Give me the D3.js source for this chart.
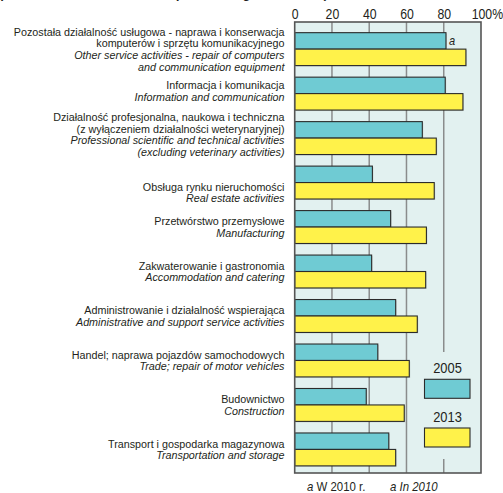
<!DOCTYPE html>
<html>
<head>
<meta charset="utf-8">
<script src="https://cdn.jsdelivr.net/npm/d3@7"></script>
<style>
  body { margin: 0; background: #fff; }
  svg { display: block; }
  text { font-family: "Liberation Sans", Arial, sans-serif; fill: #231f20; }
</style>
</head>
<body>
<svg id="chart" width="503" height="493"></svg>
<script>
// nazwy sekcji (PL / EN)
const labelsPL = [
  ["Pozostała działalność usługowa - naprawa i konserwacja", "komputerów i sprzętu komunikacyjnego"],
  ["Informacja i komunikacja"],
  ["Działalność profesjonalna, naukowa i techniczna", "(z wyłączeniem działalności weterynaryjnej)"],
  ["Obsługa rynku nieruchomości"],
  ["Przetwórstwo przemysłowe"],
  ["Zakwaterowanie i gastronomia"],
  ["Administrowanie i działalność wspierająca"],
  ["Handel; naprawa pojazdów samochodowych"],
  ["Budownictwo"],
  ["Transport i gospodarka magazynowa"]
];
const labelsEN = [
  ["Other service activities - repair of computers", "and communication equipment"],
  ["Information and communication"],
  ["Professional scientific and technical activities", "(excluding veterinary activities)"],
  ["Real estate activities"],
  ["Manufacturing"],
  ["Accommodation and catering"],
  ["Administrative and support service activities"],
  ["Trade; repair of motor vehicles"],
  ["Construction"],
  ["Transportation and storage"]
];
const years = ["2005", "2013"];
const values2005 = [81.2, 80.8, 68.5, 41.7, 51.5, 41.3, 54.2, 44.6, 38.4, 50.5];
const values2013 = [91.9, 90.3, 76.0, 74.9, 70.7, 70.3, 65.8, 61.5, 58.8, 54.2];
const xTicks = [0, 20, 40, 60, 80, 100];

const colors = {"2005": "#6fcbd3", "2013": "#fff24a"};
const panelBg = "#e2f1f0";

const svg = d3.select("#chart");
const pLeft = 294.7, pRight = 481, pTop = 22, pBottom = 473;

const x = d3.scaleLinear().domain([0, 100]).range([pLeft, pRight]);
const y = d3.scaleBand()
  .domain(d3.range(labelsPL.length))
  .range([pTop, pBottom])
  .paddingInner(0.26)
  .paddingOuter(0.2)
  .align(0.6);

// tytuł (obcięty u góry)
svg.append("g")
  .attr("transform", "translate(0,-2) scale(0.85,1)")
  .append("text")
  .style("font-weight", "bold").style("font-style", "italic").style("font-size", "15px")
  .text("(in % of total number of enterprises in a given section)");

// tło panelu
svg.append("rect")
  .attr("x", pLeft).attr("y", pTop)
  .attr("width", pRight - pLeft).attr("height", pBottom - pTop)
  .attr("fill", panelBg);

// linie siatki
svg.append("g")
  .selectAll("line")
  .data(xTicks.slice(1, -1))
  .enter().append("line")
  .attr("x1", d => x(d)).attr("x2", d => x(d))
  .attr("y1", pTop).attr("y2", pBottom)
  .attr("stroke", "#8a8c8c").attr("stroke-width", 1.5);

// miejsce na legendę
svg.append("rect")
  .attr("x", 420).attr("y", 352)
  .attr("width", 56).attr("height", 107)
  .attr("fill", panelBg);

// oś górna
const xAxis = d3.axisTop(x).tickValues(xTicks).tickSize(0)
  .tickFormat(d => d === 100 ? "100%" : d);
const ax = svg.append("g")
  .attr("transform", `translate(0,${pTop})`)
  .call(xAxis);
ax.select(".domain").remove();
ax.selectAll("text")
  .attr("y", -2.8)
  .attr("transform", "scale(0.82,1)")
  .style("font-size", "15px")
  .style("font-family", "'Liberation Sans', Arial, sans-serif")
  .attr("fill", "#231f20");
ax.selectAll(".tick").filter(d => d === 100).select("text")
  .attr("text-anchor", "start").attr("dx", -12);

// słupki
const barH = y.bandwidth() / 2;
const bars = svg.append("g");
[values2005, values2013].forEach((vals, k) => {
  const yr = years[k];
  // cień
  bars.selectAll(".shadow" + yr)
    .data(vals)
    .enter().append("rect")
    .attr("x", x(0) + 1)
    .attr("y", (d, i) => y(i) + k * barH + 1)
    .attr("width", d => x(d) - x(0))
    .attr("height", barH)
    .attr("fill", "#000").attr("opacity", 0.12);
  bars.selectAll(".bar" + yr)
    .data(vals)
    .enter().append("rect")
    .attr("x", x(0))
    .attr("y", (d, i) => y(i) + k * barH)
    .attr("width", d => x(d) - x(0))
    .attr("height", barH)
    .attr("fill", colors[yr])
    .attr("stroke", "#2b2b2b").attr("stroke-width", 1.1);
});

// ramka panelu
svg.append("rect")
  .attr("x", pLeft).attr("y", pTop)
  .attr("width", pRight - pLeft).attr("height", pBottom - pTop)
  .attr("fill", "none")
  .attr("stroke", "#555").attr("stroke-width", 1.6);

// przypis "a" przy pierwszym słupku
svg.append("g")
  .attr("transform", `translate(${x(values2005[0]) + 3},${y(0) + barH / 2 + 4}) scale(0.85,1)`)
  .append("text")
  .style("font-style", "italic").style("font-size", "13px")
  .text("a");

// etykiety kategorii - szerokość dopasowana do najdłuższej linii
const labelX = 284.5, labelW = 271, labelFont = 11.5;
const probe = svg.append("text").style("font-size", labelFont + "px").text(labelsPL[0][0]);
const sx = labelW / probe.node().getComputedTextLength();
probe.remove();

const lineH = 11.6;
const labelShift = {0: 0, 1: -2.5, 2: -3.5, 3: 10};
labelsPL.forEach((pl, i) => {
  const lines = pl.map(t => ({t, it: false})).concat(labelsEN[i].map(t => ({t, it: true})));
  const cy = y(i) + y.bandwidth() / 2 + (labelShift[i] || 0);
  const y0 = cy - (lines.length - 1) * lineH / 2;
  const g = svg.append("g")
    .attr("transform", `translate(${labelX},0) scale(${sx},1)`)
    .append("text")
    .attr("text-anchor", "end")
    .style("font-size", labelFont + "px");
  lines.forEach((l, j) => {
    g.append("tspan")
      .attr("x", 0)
      .attr("y", y0 + j * lineH + 4)
      .style("font-style", l.it ? "italic" : "normal")
      .text(l.t);
  });
});

// legenda
const legend = [
  {yr: years[0], ty: 373.3, ry: 379.3},
  {yr: years[1], ty: 422.3, ry: 428}
];
legend.forEach(l => {
  svg.append("g")
    .attr("transform", `translate(447.5,${l.ty}) scale(0.86,1)`)
    .append("text")
    .attr("text-anchor", "middle")
    .style("font-size", "15px")
    .text(l.yr);
  svg.append("rect")
    .attr("x", 424.5).attr("y", l.ry)
    .attr("width", 45.5).attr("height", 19)
    .attr("fill", colors[l.yr])
    .attr("stroke", "#2b2b2b").attr("stroke-width", 1.1);
});

// przypisy pod wykresem
const foot1 = svg.append("g")
  .attr("transform", "translate(307,490.5) scale(0.88,1)")
  .append("text").style("font-size", "13px");
foot1.append("tspan").style("font-style", "italic").text("a");
foot1.append("tspan").text(" W 2010 r.");
svg.append("g")
  .attr("transform", "translate(390,490.5) scale(0.88,1)")
  .append("text").style("font-size", "13px").style("font-style", "italic")
  .text("a In 2010");
</script>
</body>
</html>
